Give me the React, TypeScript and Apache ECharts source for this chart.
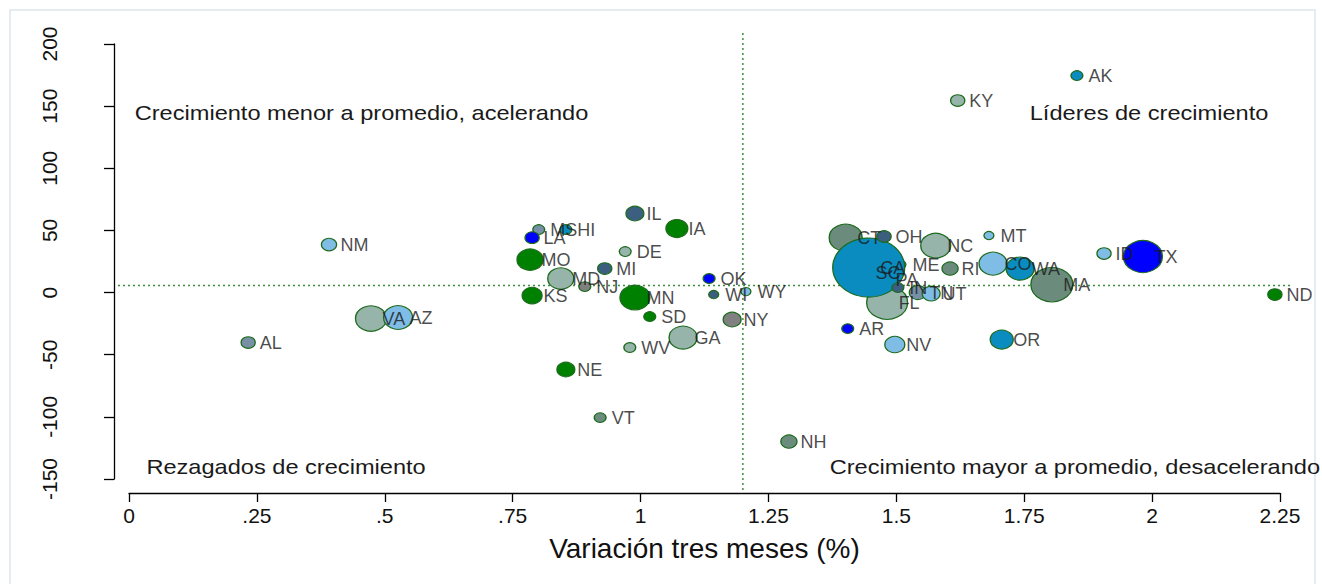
import React, { useEffect, useRef } from "react";
import * as echarts from "echarts";

// Draw order matters (later points are drawn on top)
const estados = ["SC","PA","ME","CT","FL","CA","IN","TN","UT","OH","NC","RI","MT","CO","WA","MA","ID","TX","ND","AK","KY","AR","NV","OR","NH","VA","AZ","NM","AL","MS","LA","HI","IL","IA","DE","MO","MI","MD","NJ","KS","MN","OK","WI","WY","SD","NY","GA","WV","NE","VT"];
const varTresMeses = [1.437,1.476,1.509,1.401,1.482,1.446,1.503,1.542,1.568,1.476,1.577,1.605,1.681,1.689,1.742,1.804,1.906,1.982,2.240,1.853,1.620,1.405,1.497,1.706,1.290,0.473,0.526,0.391,0.233,0.801,0.788,0.854,0.989,1.071,0.970,0.784,0.930,0.844,0.891,0.788,0.989,1.134,1.143,1.206,1.018,1.179,1.083,0.979,0.854,0.921];
const aceleracion = [16.1,10.5,22.5,44.2,-8.0,20.1,4.0,0.0,-0.8,45.1,37.8,19.3,45.9,23.3,19.3,6.4,31.4,29.0,-1.6,174.6,154.5,-29.0,-41.8,-37.8,-119.9,-20.9,-20.1,38.6,-40.2,50.7,44.2,50.7,63.6,51.5,33.0,26.5,19.3,11.3,4.8,-2.4,-4.0,11.3,-1.6,0.8,-19.3,-21.7,-36.2,-44.2,-61.9,-100.6];
const peso = [1.4,1.4,1.0,10.9,16.8,51.8,1.4,2.9,3.2,2.0,9.0,2.6,1.0,7.8,7.8,17.6,2.0,15.2,2.0,1.4,2.0,1.4,4.0,5.3,2.6,9.6,8.4,2.3,2.0,1.4,2.0,1.4,3.2,4.8,1.4,6.8,2.0,6.8,1.4,4.0,9.0,1.4,1.0,1.0,1.4,3.2,7.8,1.4,3.2,1.4];
const grupo = ["turquesa","pizarra","verdeclaro","verdegris","verdeclaro","turquesa","pizarra","grisazul","celeste","pizarra","verdeclaro","verdegris","celeste","celeste","turquesa","verdegris","celeste","azul","verde","turquesa","verdeclaro","azul","celeste","turquesa","verdegris","verdeclaro","celeste","celeste","grisazul","grisazul","azul","turquesa","pizarra","verde","verdeclaro","verde","pizarra","verdeclaro","gris","verde","verde","azul","pizarra","celeste","verde","gris","verdeclaro","verdeclaro","verde","verdegris"];

const xTickLabels = ["0", ".25", ".5", ".75", "1", "1.25", "1.5", "1.75", "2", "2.25"];
const promedioX = 1.2;
const promedioY = 5.6;

const cuadrantes = [
  { texto: "Crecimiento menor a promedio, acelerando", x: 0.4545, y: 144 },
  { texto: "Líderes de crecimiento", x: 1.994, y: 144 },
  { texto: "Rezagados de crecimiento", x: 0.307, y: -140.8 },
  { texto: "Crecimiento mayor a promedio, desacelerando", x: 1.849, y: -140.8 },
];

const colores: Record<string, string> = {
  verde: "#008000",
  azul: "#0000ff",
  celeste: "#80bde6",
  turquesa: "#0b8cc0",
  verdeclaro: "#96b4aa",
  verdegris: "#6b8c7d",
  pizarra: "#3c5f80",
  grisazul: "#7890a6",
  gris: "#808080",
};

const FONT = "'Liberation Sans', Arial, sans-serif";

export default function App() {
  const ref = useRef<HTMLDivElement>(null);
  useEffect(() => {
    const chart = echarts.init(ref.current!, null, { renderer: "svg" });
    const data = estados.map((s, i) => ({
      name: s,
      value: [varTresMeses[i], aceleracion[i], peso[i]],
      itemStyle: { color: colores[grupo[i]] },
    }));
    const labelData = estados.map((s, i) => ({ name: s, value: [varTresMeses[i], aceleracion[i]] }));
    const axisLineStyle = { color: "#000", width: 1.3 };
    chart.setOption({
      animation: false,
      backgroundColor: "#ffffff",
      grid: { left: 129, right: 42, top: 44, bottom: 105 },
      xAxis: {
        type: "value",
        min: 0,
        max: 2.25,
        interval: 0.25,
        offset: 14,
        axisLine: { show: true, onZero: false, lineStyle: axisLineStyle },
        axisTick: { show: true, length: 9, lineStyle: axisLineStyle },
        splitLine: { show: false },
        axisLabel: {
          fontFamily: FONT,
          fontSize: 21,
          color: "#111",
          margin: 12,
          formatter: (v: number) => xTickLabels[Math.round(v / 0.25)] ?? "",
        },
        name: "Variación tres meses (%)",
        nameLocation: "middle",
        nameGap: 41,
        nameTextStyle: { fontFamily: FONT, fontSize: 28, color: "#111" },
      },
      yAxis: {
        type: "value",
        min: -150,
        max: 200,
        interval: 50,
        offset: 15,
        axisLine: { show: true, onZero: false, lineStyle: axisLineStyle },
        axisTick: { show: true, length: 10, lineStyle: axisLineStyle },
        splitLine: { show: false },
        axisLabel: { fontFamily: FONT, fontSize: 21, color: "#111", rotate: 90, margin: 54 },
      },
      series: [
        {
          type: "scatter",
          data,
          clip: false,
          z: 2,
          symbol: "circle",
          symbolSize: (v: number[]) => {
            const w = 10 * Math.sqrt(v[2]);
            return [w, w * 0.82];
          },
          itemStyle: { borderColor: "#1d6a1d", borderWidth: 1.2, opacity: 1 },
          emphasis: { disabled: true },
          silent: true,
        },
        {
          type: "scatter",
          data: labelData,
          clip: false,
          z: 3,
          symbolSize: 1,
          itemStyle: { color: "rgba(0,0,0,0)" },
          label: {
            show: true,
            position: "right",
            distance: 11,
            formatter: "{b}",
            fontFamily: FONT,
            fontSize: 18,
            color: "#1a1a1a",
          },
          emphasis: { disabled: true },
          silent: true,
        },
      ],
    });

    const p0 = chart.convertToPixel({ gridIndex: 0 }, [0, -150]) as number[];
    const p1 = chart.convertToPixel({ gridIndex: 0 }, [2.25, 200]) as number[];
    const vx = (chart.convertToPixel({ gridIndex: 0 }, [promedioX, 0]) as number[])[0];
    const hy = (chart.convertToPixel({ gridIndex: 0 }, [0, promedioY]) as number[])[1];
    const refStyle = { stroke: "#3d8f3d", lineWidth: 1.5, lineDash: [2, 3] };
    const graphics: any[] = [
      {
        type: "rect",
        shape: { x: 10, y: 10, width: 1305, height: 600 },
        style: { fill: "none", stroke: "#e4ecef", lineWidth: 2 },
        z: -10,
        silent: true,
      },
      {
        type: "line",
        shape: { x1: vx, y1: p1[1] - 11, x2: vx, y2: p0[1] + 11 },
        style: refStyle,
        z: 1,
        silent: true,
      },
      {
        type: "line",
        shape: { x1: p0[0] - 11, y1: hy, x2: p1[0] + 12, y2: hy },
        style: refStyle,
        z: 1,
        silent: true,
      },
    ];
    cuadrantes.forEach((q) => {
      const p = chart.convertToPixel({ gridIndex: 0 }, [q.x, q.y]) as number[];
      graphics.push({
        type: "text",
        x: p[0],
        y: p[1],
        scaleX: 1.18,
        z: 5,
        silent: true,
        style: {
          text: q.texto,
          fontFamily: FONT,
          fontSize: 20,
          fill: "#1a1a1a",
          align: "center",
          verticalAlign: "middle",
        },
      });
    });
    chart.setOption({ graphic: graphics });
    return () => chart.dispose();
  }, []);
  return (
    <div
      ref={ref}
      style={{ position: "fixed", left: 0, top: 0, width: 1322, height: 584, background: "#fff" }}
    />
  );
}
